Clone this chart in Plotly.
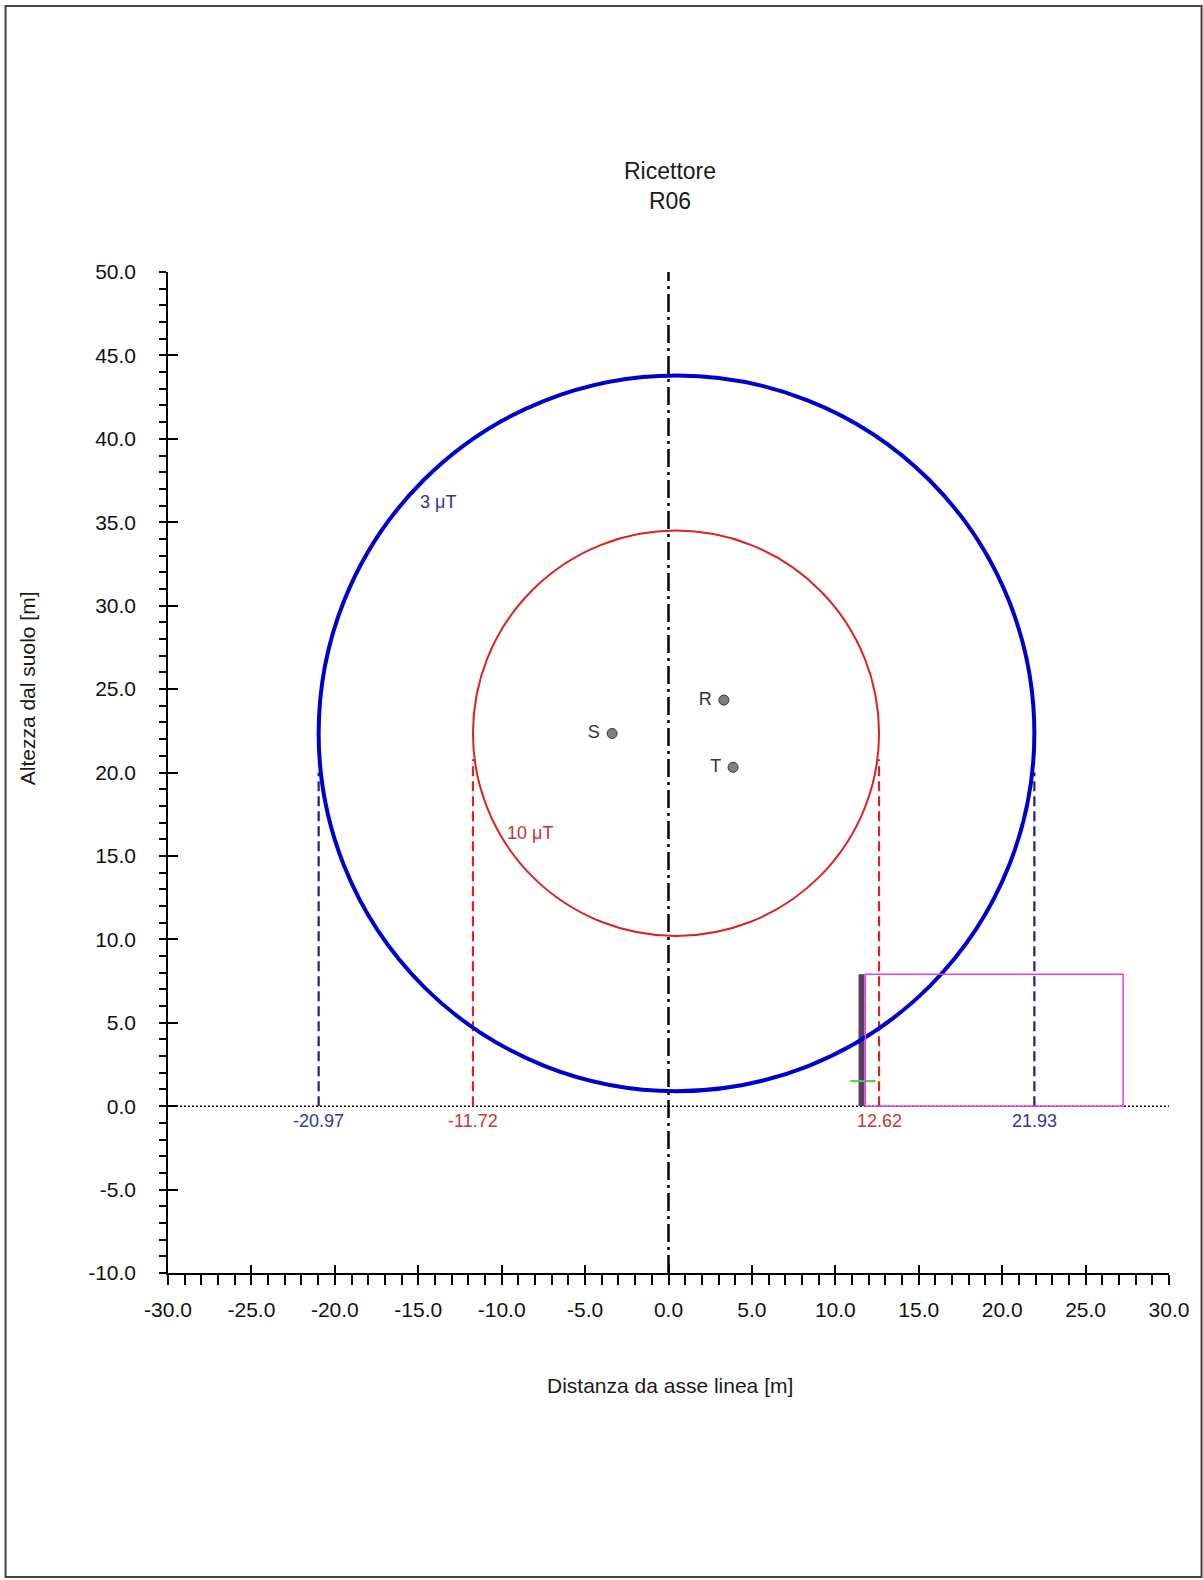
import plotly.graph_objects as go

# ---------------- data ----------------
title_lines = ["Ricettore", "R06"]
x_title = "Distanza da asse linea [m]"
y_title = "Altezza dal suolo [m]"

x_range = [-30.0, 30.0]
y_range = [-10.0, 50.0]
x_tick_vals = [-30, -25, -20, -15, -10, -5, 0, 5, 10, 15, 20, 25, 30]
x_tick_text = ["-30.0", "-25.0", "-20.0", "-15.0", "-10.0", "-5.0", "0.0",
               "5.0", "10.0", "15.0", "20.0", "25.0", "30.0"]
y_tick_vals = [-10, -5, 0, 5, 10, 15, 20, 25, 30, 35, 40, 45, 50]
y_tick_text = ["-10.0", "-5.0", "0.0", "5.0", "10.0", "15.0", "20.0",
               "25.0", "30.0", "35.0", "40.0", "45.0", "50.0"]

# iso-field contours (circles): label, left/right intercepts, bottom/top heights
level_names = ["3 μT", "10 μT"]
level_left = [-20.97, -11.72]
level_right = [21.93, 12.62]
level_bottom = [0.9, 10.2]
level_top = [43.8, 34.5]
level_dash_top = [20.0, 20.8]
level_label_x = [-13.8, -8.3]
level_label_y = [36.2, 16.4]

# conductors
cond_names = ["S", "R", "T"]
cond_x = [-3.38, 3.32, 3.87]
cond_y = [22.34, 24.34, 20.31]

# building / receptor
bld_x = [11.8, 27.25]
bld_y = [0.0, 7.9]
wall_x = 11.57
recv_x = 11.65
recv_y = 1.5

axis_line_x = [0.0, 0.0]
axis_line_y = [-10.0, 50.0]

# ---------------- styles ----------------
FONT = "Liberation Sans, Arial, sans-serif"
circle_colors = ["#0000cc", "#dd2222"]
circle_widths = [4, 2]
dash_colors = ["#1f1f8f", "#dd2222"]
label_colors = ["#333399", "#cc3333"]
num_colors = ["#3333aa", "#cc3333"]

fig = go.Figure()

# center line (dash-dot)
fig.add_trace(go.Scatter(x=axis_line_x, y=axis_line_y, mode="lines",
                         line=dict(color="black", width=2.5, dash="18px,5px,3px,5px"),
                         hoverinfo="skip", showlegend=False))
# ground line (dotted)
fig.add_trace(go.Scatter(x=x_range, y=[0, 0], mode="lines",
                         line=dict(color="black", width=1.5, dash="2px,2px"),
                         hoverinfo="skip", showlegend=False))

shapes = []
annotations = []
for i in range(len(level_names)):
    # dashed verticals
    for xv in (level_left[i], level_right[i]):
        fig.add_trace(go.Scatter(x=[xv, xv], y=[0, level_dash_top[i]], mode="lines",
                                 line=dict(color=dash_colors[i], width=2.2, dash="10px,5px"),
                                 hoverinfo="skip", showlegend=False))
        annotations.append(dict(x=xv, y=0, xref="x", yref="y", text=f"{xv:.2f}",
                                showarrow=False, yanchor="top", yshift=-3,
                                font=dict(family=FONT, size=18, color=num_colors[i])))
    shapes.append(dict(type="circle", xref="x", yref="y",
                       x0=level_left[i], x1=level_right[i],
                       y0=level_bottom[i], y1=level_top[i],
                       line=dict(color=circle_colors[i], width=circle_widths[i])))
    annotations.append(dict(x=level_label_x[i], y=level_label_y[i], xref="x", yref="y",
                            text=level_names[i], showarrow=False,
                            font=dict(family=FONT, size=18, color=label_colors[i])))

# building
shapes.append(dict(type="rect", xref="x", yref="y", x0=bld_x[0], x1=bld_x[1],
                   y0=bld_y[0], y1=bld_y[1], line=dict(color="#dd44dd", width=1.5)))
fig.add_trace(go.Scatter(x=[wall_x, wall_x], y=bld_y, mode="lines",
                         line=dict(color="#5b3d63", width=6),
                         hoverinfo="skip", showlegend=False))
fig.add_trace(go.Scatter(x=[recv_x], y=[recv_y], mode="markers",
                         marker=dict(symbol="line-ew", size=18,
                                     line=dict(color="#44cc44", width=2)),
                         hoverinfo="skip", showlegend=False))

# conductors
fig.add_trace(go.Scatter(x=cond_x, y=cond_y, mode="markers+text",
                         text=[n + " " for n in cond_names], textposition="middle left",
                         textfont=dict(family=FONT, size=18, color="#333333"),
                         marker=dict(size=10, color="#808080",
                                     line=dict(color="#333333", width=1)),
                         hoverinfo="skip", showlegend=False))

# invisible trace on overlay axes (for inside major ticks)
fig.add_trace(go.Scatter(x=cond_x, y=cond_y, xaxis="x2", yaxis="y2", mode="markers",
                         marker=dict(opacity=0), hoverinfo="skip", showlegend=False))

# title and axis titles
annotations.append(dict(x=0.5015, y=1.086, xref="paper", yref="paper",
                        xanchor="center", yanchor="middle",
                        text="<br>".join(title_lines), showarrow=False,
                        font=dict(family=FONT, size=23, color="#1a1a1a")))
annotations.append(dict(x=0.5015, y=-0.112, xref="paper", yref="paper",
                        xanchor="center", yanchor="middle",
                        text=x_title, showarrow=False,
                        font=dict(family=FONT, size=21, color="#1a1a1a")))
annotations.append(dict(x=-0.14, y=0.584, xref="paper", yref="paper",
                        xanchor="center", yanchor="middle",
                        text=y_title, showarrow=False, textangle=-90,
                        font=dict(family=FONT, size=21, color="#1a1a1a")))

# page border
shapes.append(dict(type="rect", xref="paper", yref="paper",
                   x0=-0.1623, x1=1.0325, y0=-0.3037, y1=1.2657,
                   line=dict(color="#444444", width=2)))

axis_common = dict(showgrid=False, zeroline=False,
                   tickfont=dict(family=FONT, size=21, color="#111111"),
                   showline=True, linecolor="black", linewidth=1.5,
                   tickcolor="black", tickwidth=1.5)

fig.update_layout(
    width=1203, height=1580, autosize=False,
    margin=dict(l=168, r=34, t=272, b=307),
    paper_bgcolor="white", plot_bgcolor="white",
    showlegend=False,
    xaxis=dict(range=x_range, tickmode="array", tickvals=x_tick_vals, ticktext=x_tick_text,
               ticks="outside", ticklen=10, ticklabelstandoff=7,
               minor=dict(dtick=1, tick0=0, ticks="outside", ticklen=10,
                          tickcolor="black", tickwidth=1.5),
               **axis_common),
    yaxis=dict(range=y_range, tickmode="array", tickvals=y_tick_vals, ticktext=y_tick_text,
               ticks="outside", ticklen=7, ticklabelstandoff=19,
               minor=dict(dtick=1, tick0=0, ticks="outside", ticklen=7,
                          tickcolor="black", tickwidth=1.5),
               **axis_common),
    xaxis2=dict(range=x_range, overlaying="x", anchor="y2", side="bottom",
                tickmode="array", tickvals=x_tick_vals,
                ticks="inside", ticklen=8, tickcolor="black", tickwidth=1.5,
                showticklabels=False, showgrid=False, zeroline=False, showline=False),
    yaxis2=dict(range=y_range, overlaying="y", anchor="x2", side="left",
                tickmode="array", tickvals=y_tick_vals,
                ticks="inside", ticklen=10, tickcolor="black", tickwidth=1.5,
                showticklabels=False, showgrid=False, zeroline=False, showline=False),
    shapes=shapes,
    annotations=annotations,
)

fig.write_html("out.html")
